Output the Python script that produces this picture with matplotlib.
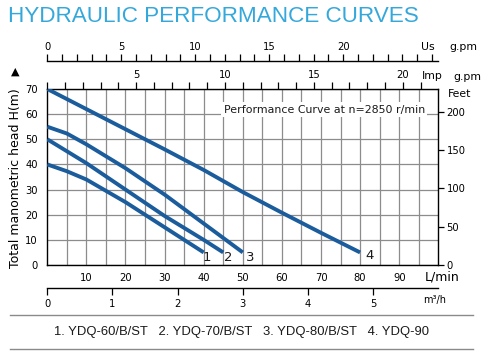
import numpy as np
import matplotlib
matplotlib.use('Agg')
import matplotlib.pyplot as plt

matplotlib.rcParams['font.family'] = 'DejaVu Sans'

##########################################
## Data
##########################################
q1 = [0, 5, 10, 20, 30, 40]
h1 = [40, 37.3, 34, 25, 15, 5]
q2 = [0, 10, 20, 30, 40, 45]
h2 = [50, 40.5, 30, 19.5, 10, 5]
q3 = [0, 5, 10, 20, 30, 40, 50]
h3 = [55, 52.3, 48, 38.5, 28, 16.5, 5]
q4 = [0, 10, 20, 30, 40, 50, 60, 70, 80]
h4 = [70, 62, 54, 46, 37.8, 29, 20.8, 12.8, 5]

curve_names = ['1', '2', '3', '4']
legend_text = '1. YDQ-60/B/ST   2. YDQ-70/B/ST   3. YDQ-80/B/ST   4. YDQ-90'

lpm_labels = [10, 20, 30, 40, 50, 60, 70, 80, 90]
head_labels = [0, 10, 20, 30, 40, 50, 60, 70]
feet_labels = [0, 50, 100, 150, 200]
us_labels = [0, 5, 10, 15, 20]
imp_labels = [5, 10, 15, 20]
m3h_labels = [0, 1, 2, 3, 4, 5]

# unit conversions
LPM_PER_US = 3.785
LPM_PER_IMP = 4.546
LPM_PER_M3H = 1000 / 60
M_PER_FT = 0.3048

##########################################
## Style parameters
##########################################
W, H = 495, 355
blue = '#1b5c9c'
grid_c = '#8c8c8c'
tick_fs = 7.2
lw_curve = 2.8

def fx(px):
    return px / W

def fy(py):
    return 1 - py / H

fig = plt.figure(figsize=(W / 100, H / 100), dpi=100)
fig.patch.set_facecolor('white')

x0, x1 = 47.3, 438.3
y_top, y_bot = 89, 265
ax = fig.add_axes([fx(x0), fy(y_bot), fx(x1 - x0), (y_bot - y_top) / H])

for q, h in zip([q1, q2, q3, q4], [h1, h2, h3, h4]):
    ax.plot(q, h, color=blue, lw=lw_curve, solid_capstyle='butt', zorder=3)

ax.set_xlim(0, 100)
ax.set_ylim(0, 70)
ax.set_xticks(np.arange(5, 100, 5))
ax.set_xticklabels([str(v) if v in lpm_labels else '' for v in range(5, 100, 5)])
ax.set_yticks(head_labels)
ax.tick_params(axis='both', length=0, labelsize=tick_fs)
ax.tick_params(axis='x', pad=6)
ax.tick_params(axis='y', pad=7)
ax.grid(True, color=grid_c, lw=0.9)
for s in ax.spines.values():
    s.set_linewidth(1.0)

# curve numbers
for name, xq, yh in zip(curve_names, [40.9, 46.2, 51.8, 82.5], [2.8, 2.8, 2.8, 3.6]):
    ax.text(xq, yh, name, fontsize=9.5, ha='center', va='center', color='#1a1a1a', zorder=4)

ax.text(70.8, 61.8, 'Performance Curve at n=2850 r/min', fontsize=7.9, ha='center', va='center',
        color='#1a1a1a', zorder=4,
        bbox=dict(boxstyle='square,pad=0.2', fc='white', ec='none'))

# Feet axis on the right
axr = ax.twinx()
axr.set_ylim(0, 70 / M_PER_FT)
axr.set_yticks(feet_labels)
axr.tick_params(axis='y', direction='out', length=4, width=0.9, labelsize=tick_fs, pad=2)
for s in axr.spines.values():
    s.set_visible(False)

# Imp g.pm on the top spine
axi = ax.twiny()
axi.set_xlim(0, 100 / LPM_PER_IMP)
axi.set_xticks(imp_labels)
axi.set_xticks(np.arange(0, 22, 1), minor=True)
axi.tick_params(axis='x', which='both', direction='out', length=5, width=0.9,
                labelsize=tick_fs, pad=1.5)
for s in axi.spines.values():
    s.set_visible(False)

# Us g.pm axis above
axu = fig.add_axes([fx(x0), fy(60.7), fx(x1 - x0), 0.0001])
axu.set_facecolor('none')
for k in ['left', 'right', 'bottom']:
    axu.spines[k].set_visible(False)
axu.spines['top'].set_linewidth(1.0)
axu.set_yticks([])
axu.set_xlim(0, 100 / LPM_PER_US)
axu.xaxis.set_ticks_position('top')
axu.xaxis.set_label_position('top')
axu.set_xticks(us_labels)
axu.set_xticks(np.arange(0, 27, 1), minor=True)
axu.tick_params(axis='x', which='both', direction='out', length=5, width=0.9,
                labelsize=tick_fs, pad=1.5)

# m3/h axis below
axm = fig.add_axes([fx(x0), fy(287.7), fx(x1 - x0), 0.0001])
axm.set_facecolor('none')
for k in ['left', 'right', 'top']:
    axm.spines[k].set_visible(False)
axm.spines['bottom'].set_linewidth(1.0)
axm.set_yticks([])
axm.set_xlim(0, 100 / LPM_PER_M3H)
axm.set_xticks(m3h_labels)
axm.tick_params(axis='x', direction='out', length=5, width=0.9, labelsize=tick_fs, pad=3)

# unit labels
fig.text(fx(428), fy(47), 'Us', fontsize=7.8, ha='center', va='center')
fig.text(fx(463), fy(47), 'g.pm', fontsize=7.8, ha='center', va='center')
fig.text(fx(432), fy(76), 'Imp', fontsize=7.8, ha='center', va='center')
fig.text(fx(467), fy(77), 'g.pm', fontsize=7.8, ha='center', va='center')
fig.text(fx(448), fy(94), 'Feet', fontsize=7.8, ha='left', va='center')
fig.text(fx(442), fy(277), 'L/min', fontsize=9, ha='center', va='center')
fig.text(fx(435), fy(300), 'm³/h', fontsize=7, ha='center', va='center')

fig.text(fx(16), fy(178), 'Total manometric head H(m)', fontsize=9, rotation=90,
         ha='center', va='center')
fig.text(fx(15), fy(71.5), '▲', fontsize=8, ha='center', va='center')

# title
fig.text(fx(8), fy(17), 'HYDRAULIC PERFORMANCE CURVES', fontsize=16.2, color='#35a8db',
         ha='left', va='center', family='Liberation Sans')

# model legend between two rules
fig.add_artist(plt.Line2D([fx(10), fx(473)], [fy(315), fy(315)], color='#8a8a8a', lw=1))
fig.add_artist(plt.Line2D([fx(10), fx(473)], [fy(349.3), fy(349.3)], color='#8a8a8a', lw=1))
fig.text(fx(241.5), fy(332), legend_text, fontsize=9.4, ha='center', va='center',
         family='Liberation Sans', color='#1a1a1a')

plt.savefig('out.png', dpi=100)
